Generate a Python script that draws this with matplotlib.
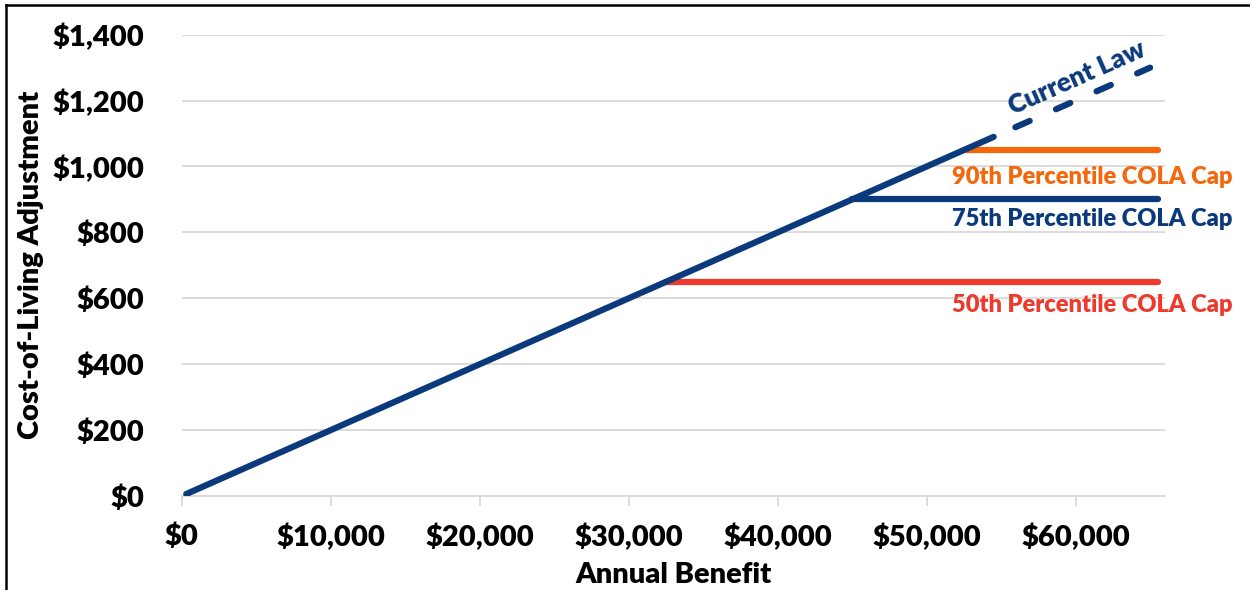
import matplotlib.pyplot as plt
from matplotlib.lines import Line2D

plt.rcParams['font.family'] = ['Lato', 'DejaVu Sans']
plt.rcParams['font.weight'] = 'heavy'

# data
benefit_law = [300, 54500]
cola_law = [6, 1090]
benefit_law_dash = [54500, 65000]
cola_law_dash = [1090, 1300]

cap_names = ["50th Percentile COLA Cap", "75th Percentile COLA Cap", "90th Percentile COLA Cap"]
cap_values = [650, 900, 1050]
cap_start = [32500, 45000, 52500]
cap_end = [65500, 65500, 65500]
cap_colors = ["#ee3a2c", "#0b3a7c", "#f4680b"]
cap_label_y = [580, 841, 968]

x_ticks = [0, 10000, 20000, 30000, 40000, 50000, 60000]
y_ticks = [0, 200, 400, 600, 800, 1000, 1200, 1400]

navy = "#0b3a7c"
lw = 4.5
fw = "heavy"

fig = plt.figure(figsize=(12.5, 5.9), dpi=100)
ax = fig.add_axes([0.1454, 0.1593, 0.932 - 0.1454, 0.9412 - 0.1593])

for v in y_ticks:
    ax.axhline(v, color="#d9d9d9", lw=1.3, zorder=0)

# caps first, current law on top
for name, v, s, e, c, ly in zip(cap_names, cap_values, cap_start, cap_end, cap_colors, cap_label_y):
    ax.plot([s, e], [v, v], color=c, lw=lw, solid_capstyle="round", zorder=2)
    ax.text(1.0 + 67 / 983, ly, name, color=c, fontsize=17, fontweight=fw,
            ha="right", va="center", transform=ax.get_yaxis_transform(), clip_on=False)

ax.plot(benefit_law, cola_law, color=navy, lw=lw, solid_capstyle="round", zorder=3)
ax.plot(benefit_law_dash, cola_law_dash, color=navy, lw=lw,
        ls=(3.3, (2.5, 4.6)), dash_capstyle="round", zorder=3)
ax.text(60100, 1268, "Current Law", color=navy, fontsize=19, fontweight=fw,
        rotation=24, rotation_mode="anchor", ha="center", va="center")

ax.set_xlim(0, 66000)
ax.set_ylim(0, 1400)
ax.set_xticks(x_ticks)
ax.set_xticklabels([f"${v:,.0f}" for v in x_ticks])
ax.set_yticks(y_ticks)
ax.set_yticklabels([f"${v:,.0f}" for v in y_ticks])
ax.tick_params(axis="x", length=7, width=1.3, color="#d9d9d9", labelsize=21, pad=13)
ax.tick_params(axis="y", length=0, labelsize=21, pad=27)
for lab in ax.get_xticklabels() + ax.get_yticklabels():
    lab.set_fontweight(fw)
for sp in ["top", "right", "left"]:
    ax.spines[sp].set_visible(False)
ax.spines["bottom"].set_color("#d9d9d9")
ax.spines["bottom"].set_linewidth(1.3)

ax.set_xlabel("Annual Benefit", fontsize=21, fontweight=fw, labelpad=8)
ax.set_ylabel("Cost-of-Living Adjustment", fontsize=21, fontweight=fw, labelpad=6)

# frame lines of the original figure box
fig.add_artist(Line2D([6 / 1250, 6 / 1250], [0, 1 - 5 / 590], color="black", lw=1.8))
fig.add_artist(Line2D([6 / 1250, 1], [1 - 5 / 590, 1 - 5 / 590], color="black", lw=1.8))

fig.savefig("out.png", dpi=100)
